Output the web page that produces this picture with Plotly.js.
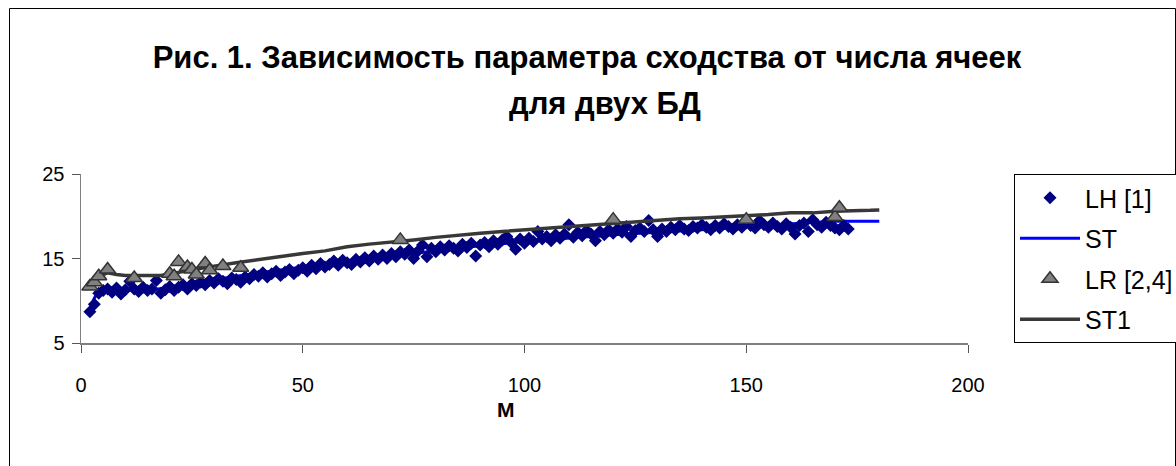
<!DOCTYPE html>
<html>
<head>
<meta charset="utf-8">
<script src="https://cdn.plot.ly/plotly-3.0.1.min.js"></script>
<style>
html,body{margin:0;padding:0;background:#fff;}
#chart{width:1176px;height:466px;}
</style>
</head>
<body>
<div id="chart"></div>
<script>
// ---- data ----
const titleLine1 = "Рис. 1. Зависимость параметра сходства от числа ячеек";
const titleLine2 = "для двух БД";
const xTitle = "M";
const xTickVals = [0, 50, 100, 150, 200];
const yTickVals = [5, 15, 25];

const lhName = "LH [1]";
const lhX = [2,3,4,5,6,7,8,9,10,11,
  12,13,14,15,16,17,18,19,20,21,
  22,23,24,25,26,27,28,29,30,31,
  32,33,34,35,36,37,38,39,40,41,
  42,43,44,45,46,47,48,49,50,51,
  52,53,54,55,56,57,58,59,60,61,
  62,63,64,65,66,67,68,69,70,71,
  72,73,74,75,76,77,78,79,80,81,
  82,83,84,85,86,87,88,89,90,91,
  92,93,94,95,96,97,98,99,100,101,
  102,103,104,105,106,107,108,109,110,111,
  112,113,114,115,116,117,118,119,120,121,
  122,123,124,125,126,127,128,129,130,131,
  132,133,134,135,136,137,138,139,140,141,
  142,143,144,145,146,147,148,149,150,151,
  152,153,154,155,156,157,158,159,160,161,
  162,163,164,165,166,167,168,169,170,171,
  172,173];
const lhY = [8.7,9.6,10.9,11.2,11.4,11.0,11.5,10.8,11.3,12.3,
  11.4,11.1,11.6,11.2,11.4,12.4,10.9,11.3,11.7,11.2,
  11.6,11.9,11.4,12.0,11.8,12.2,11.9,12.4,12.1,12.6,
  12.3,12.0,12.7,12.5,12.2,12.8,12.6,13.1,12.9,13.3,
  12.8,13.2,13.5,13.0,13.4,13.7,13.2,13.6,13.9,13.5,
  14.2,13.8,14.4,14.0,14.3,14.7,14.2,14.8,14.5,14.3,
  14.9,14.6,15.1,14.7,15.3,14.9,15.4,15.0,15.6,15.2,
  15.8,15.5,16.0,15.0,15.9,16.6,15.2,16.2,15.8,16.4,
  16.0,16.5,16.2,15.9,16.7,16.3,16.8,15.3,16.6,16.9,
  16.4,17.1,16.7,17.2,17.6,16.9,16.1,17.3,16.8,17.4,
  17.0,18.2,17.3,17.6,17.1,17.8,17.4,17.9,19.0,17.5,
  18.1,17.7,18.3,17.9,17.1,18.2,17.8,18.4,18.0,18.5,
  18.1,18.8,17.6,18.3,18.6,18.2,19.5,18.4,17.6,18.5,
  18.2,18.7,18.4,18.9,18.5,18.3,18.8,18.6,19.0,18.7,
  18.4,18.9,18.6,19.1,18.8,18.5,19.0,18.7,19.2,18.9,
  18.6,19.5,19.0,18.7,19.2,18.8,18.5,19.1,18.7,17.9,
  18.9,19.2,18.2,19.6,19.0,18.7,19.3,18.9,18.6,18.4,
  18.9,18.5];

const stName = "ST";
const stX = [2,3,4,8,15,20,25,30,40,50,60,70,80,90,100,110,120,130,140,150,160,165,170,180];
const stY = [9.0,10.3,11.2,11.3,11.3,11.5,12.0,12.5,13.3,14.0,14.7,15.3,15.9,16.5,17.0,17.4,17.8,18.1,18.4,18.8,19.1,19.3,19.4,19.4];

const lrName = "LR [2,4]";
const lrX = [2,3,4,6,12,20,21,22,24,25,26,28,29,32,36,72,120,150,170,171];
const lrY = [11.7,12.2,12.9,13.7,12.7,13.2,12.9,14.6,14.0,13.7,13.1,14.4,13.6,14.1,13.9,17.2,19.6,19.6,19.9,21.0];

const st1Name = "ST1";
const st1X = [2,3,4,5,6,8,10,18,20,25,30,35,40,45,50,55,60,65,70,75,80,85,90,95,100,105,110,115,120,125,130,135,140,145,150,155,160,165,170,175,178,180];
const st1Y = [11.6,12.2,12.8,13.1,13.3,13.1,13.0,13.0,13.2,13.6,14.1,14.5,14.9,15.3,15.6,15.9,16.4,16.7,16.9,17.2,17.5,17.8,18.0,18.2,18.4,18.6,18.8,19.0,19.2,19.4,19.5,19.7,19.8,19.9,20.0,20.2,20.4,20.4,20.6,20.6,20.7,20.75];

// ---- geometry ----
const W = 1176, H = 466;
const mL = 81, mR = 208, mT = 174, mB = 123;
const plotW = W - mL - mR, plotH = H - mT - mB;
const px2paperX = p => (p - mL) / plotW;
const px2paperY = p => (H - mB - p) / plotH;

const FONT = '"Liberation Sans", Arial, sans-serif';

const traces = [
  {x: stX, y: stY, name: stName, type: 'scatter', mode: 'lines',
   line: {color: '#0000FF', width: 3}, legendgroup: 'b', legendrank: 2},
  {x: lhX, y: lhY, name: lhName, type: 'scatter', mode: 'markers',
   marker: {symbol: 'diamond', size: 10, color: '#000080'}, legendgroup: 'a', legendrank: 1},
  {x: st1X, y: st1Y, name: st1Name, type: 'scatter', mode: 'lines',
   line: {color: '#383838', width: 3.5}, legendgroup: 'd', legendrank: 4},
  {x: lrX, y: lrY, name: lrName, type: 'scatter', mode: 'markers',
   marker: {symbol: 'triangle-up', size: 14, color: '#808080', line: {color: '#333333', width: 1.5}},
   legendgroup: 'c', legendrank: 3}
];

const layout = {
  width: W, height: H,
  margin: {l: mL, r: mR, t: mT, b: mB, pad: 0, autoexpand: false},
  paper_bgcolor: '#ffffff', plot_bgcolor: '#ffffff',
  font: {family: FONT, color: '#000000', size: 20},
  title: {text: titleLine1, font: {family: FONT, size: 31, color: '#000', weight: 'bold'},
          xref: 'container', yref: 'container', x: 587 / W, xanchor: 'center',
          y: 1 - 57 / H, yanchor: 'middle'},
  xaxis: {range: [0, 200], tickvals: xTickVals, ticks: 'outside', ticklen: 8, tickwidth: 1,
          tickcolor: '#555555', showline: true, linecolor: '#808080', linewidth: 1.5,
          showgrid: false, zeroline: false, tickfont: {size: 20, family: FONT},
          ticklabelstandoff: 15, automargin: false},
  yaxis: {range: [5, 25], tickvals: yTickVals, ticks: 'outside', ticklen: 8, tickwidth: 1,
          tickcolor: '#555555', showline: true, linecolor: '#808080', linewidth: 1.5,
          showgrid: false, zeroline: false, tickfont: {size: 20, family: FONT},
          ticklabelstandoff: 3, automargin: false},
  legend: {x: px2paperX(1014), y: 1, xanchor: 'left', yanchor: 'top',
           bgcolor: '#ffffff', bordercolor: '#000000', borderwidth: 1,
           font: {size: 25, family: FONT}, itemwidth: 60, tracegroupgap: 5,
           traceorder: 'grouped'},
  showlegend: true,
  annotations: [
    {text: titleLine2, xref: 'paper', yref: 'paper', x: px2paperX(605), y: px2paperY(103),
     xanchor: 'center', yanchor: 'middle', showarrow: false,
     font: {family: FONT, size: 31, weight: 'bold', color: '#000'}},
    {text: xTitle, xref: 'paper', yref: 'paper', x: px2paperX(506), y: px2paperY(409),
     xanchor: 'center', yanchor: 'middle', showarrow: false,
     font: {family: FONT, size: 21, weight: 'bold', color: '#000'}}
  ],
  shapes: [
    {type: 'rect', xref: 'paper', yref: 'paper', layer: 'below',
     x0: px2paperX(9.5), x1: px2paperX(1175.5), y0: px2paperY(480), y1: px2paperY(8.5),
     line: {color: '#000000', width: 1}, fillcolor: 'rgba(0,0,0,0)'}
  ]
};

Plotly.newPlot('chart', traces, layout, {staticPlot: true, displayModeBar: false});
</script>
</body>
</html>
